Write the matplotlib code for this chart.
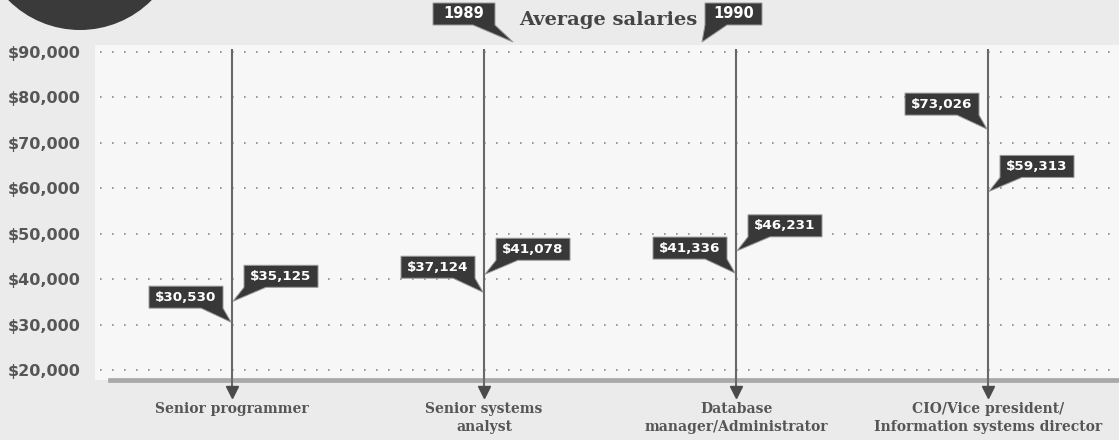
import matplotlib
matplotlib.use("Agg")
import matplotlib.pyplot as plt
from matplotlib.patches import Polygon, Circle
from matplotlib.transforms import Affine2D, ScaledTranslation

# ---- data -------------------------------------------------------------
categories = [
    "Senior programmer",
    "Senior systems\nanalyst",
    "Database\nmanager/Administrator",
    "CIO/Vice president/\nInformation systems director",
]
salaries_1989 = [30530, 37124, 41336, 73026]
salaries_1990 = [35125, 41078, 46231, 59313]
y_ticks = [20000, 30000, 40000, 50000, 60000, 70000, 80000, 90000]
y_tick_labels = [f"${v:,}" for v in y_ticks]
title = "Average salaries"
years = ["1989", "1990"]

# ---- styling ----------------------------------------------------------
BG = "#ebebeb"
PANEL = "#f7f7f7"
INK = "#565656"
BUBBLE = "#383838"
STEM = "#686868"

W, H, DPI = 1119, 440, 100
fig = plt.figure(figsize=(W / DPI, H / DPI), dpi=DPI, facecolor=BG)

# plot panel in pixels: left 95, right 1119, top 45, bottom 380
ax = fig.add_axes([95 / W, (H - 380) / H, (W - 95) / W, (380 - 45) / H])
ax.set_facecolor(PANEL)
for s in ax.spines.values():
    s.set_visible(False)

ax.set_xlim(-0.5437, 3.5198)
ax.set_ylim(17799, 91541)

ax.set_yticks(y_ticks)
ax.set_yticklabels(y_tick_labels, fontsize=11.5, fontweight="bold",
                   family="DejaVu Sans", color=INK)
ax.tick_params(axis="y", length=0, pad=10.5)

x = list(range(len(categories)))
ax.set_xticks(x)
ax.set_xticklabels(categories, fontsize=10, fontweight="bold",
                   family="DejaVu Serif", color=INK, linespacing=1.35)
ax.tick_params(axis="x", length=0, pad=16)

# dotted horizontal guides
for v in y_ticks:
    ax.axhline(v, xmin=0.005, xmax=1, color="#8c8c8c", lw=1.2,
               linestyle=(0, (1, 6.2)), zorder=1)

# heavy baseline band
ax.axhline(17799, xmin=15 / 1024, xmax=1, color="#a9a9a9", lw=3.4,
           zorder=2, clip_on=False)

# vertical stems with arrowheads
for xi in x:
    ax.plot([xi, xi], [90660, 16000], color=STEM, lw=1.5, zorder=3,
            clip_on=False, solid_capstyle="butt")
    ax.plot([xi], [15100], marker="v", markersize=9, color="#4a4a4a",
            zorder=3, clip_on=False)

# pixel-offset transform anchored at a data point
px = Affine2D().scale(1 / DPI)


def anchored(xd, yd):
    return px + fig.dpi_scale_trans + ScaledTranslation(xd, yd, ax.transData)


def bubble(xd, yd, text, side):
    w, h, gap, rise = 74, 22, 9, 14
    if side == "left":
        R = -gap
        L = R - w
        verts = [(L, rise), (L, rise + h), (R, rise + h), (R, rise),
                 (-1, 0), (R - 22, rise)]
    else:
        L = gap + 3
        R = L + w
        verts = [(1, 0), (L + 22, rise), (R, rise), (R, rise + h),
                 (L, rise + h), (L, rise)]
    tr = anchored(xd, yd)
    ax.add_patch(Polygon(verts, closed=True, facecolor=BUBBLE,
                         edgecolor="#9a9a9a", lw=0.7, transform=tr,
                         clip_on=False, zorder=5))
    ax.text((L + R) / 2, rise + h / 2, text, transform=tr, ha="center",
            va="center", color="white", fontsize=9.7, fontweight="bold",
            family="DejaVu Sans", zorder=6, clip_on=False)


for xi, v89, v90 in zip(x, salaries_1989, salaries_1990):
    bubble(xi, v89, f"${v89:,}", "left")
    bubble(xi, v90, f"${v90:,}", "right")

# ---- header (figure pixel coordinates, origin top-left) ---------------
top = Affine2D().scale(1 / DPI, -1 / DPI).translate(0, H / DPI) + fig.dpi_scale_trans

fig.add_artist(Circle((80, -71), 101, transform=top, facecolor="#3a3a3a",
                      edgecolor="none", zorder=1))

fig.text(608, 20, title, transform=top, ha="center", va="center",
         fontsize=14, fontweight="bold", family="DejaVu Serif", color="#454545")

# year key bubbles
L, R, T, B = 433, 495, 3, 25
fig.add_artist(Polygon([(L, B), (L, T), (R, T), (R, B), (513, 42), (R - 22, B)],
                       closed=True, transform=top, facecolor=BUBBLE,
                       edgecolor="#9a9a9a", lw=0.7))
fig.text((L + R) / 2, (T + B) / 2, years[0], transform=top, ha="center",
         va="center", color="white", fontsize=10.5, fontweight="bold",
         family="DejaVu Sans")

L, R, T, B = 705, 762, 3, 25
fig.add_artist(Polygon([(702, 42), (L + 22, B), (R, B), (R, T), (L, T), (L, B)],
                       closed=True, transform=top, facecolor=BUBBLE,
                       edgecolor="#9a9a9a", lw=0.7))
fig.text((L + R) / 2, (T + B) / 2, years[1], transform=top, ha="center",
         va="center", color="white", fontsize=10.5, fontweight="bold",
         family="DejaVu Sans")

fig.savefig("out.png", dpi=DPI, facecolor=BG)
